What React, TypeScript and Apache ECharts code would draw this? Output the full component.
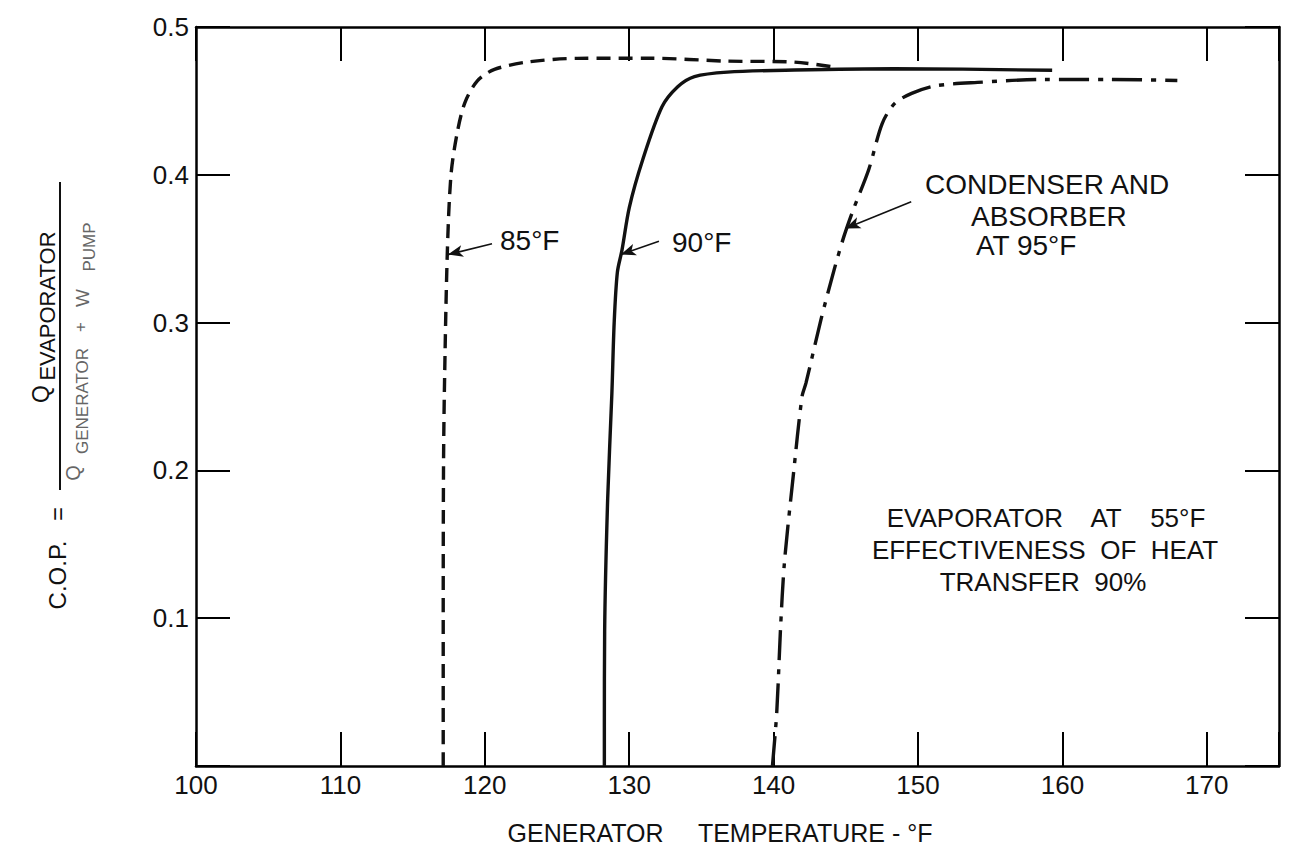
import React, { useEffect, useRef } from "react";
import * as echarts from "echarts";

// Generator temperature (°F) vs C.O.P.
const temp85 = [117.12, 117.12, 117.14, 117.2, 117.4, 117.66, 118.1, 118.63, 119.5, 120.67, 122.95, 126.4, 131.5, 136.79, 141.0, 144.41];
const cop85 = [0.0, 0.1, 0.2, 0.253, 0.346, 0.4, 0.429, 0.449, 0.4637, 0.4713, 0.4763, 0.4788, 0.4789, 0.4769, 0.4765, 0.4726];

const temp90 = [128.28, 128.28, 128.3, 128.51, 128.8, 128.96, 129.18, 129.5, 130.01, 130.93, 132.27, 133.36, 134.52, 136.8, 141.44, 148.36, 159.29];
const cop90 = [0.0, 0.026, 0.091, 0.181, 0.252, 0.3, 0.334, 0.349, 0.378, 0.41, 0.446, 0.4596, 0.4665, 0.4695, 0.4709, 0.4718, 0.4707];

const temp95 = [139.92, 140.22, 140.48, 140.75, 141.36, 141.97, 142.24, 143.28, 144.2, 144.86, 145.52, 146.59, 147.52, 148.39, 149.56, 151.14, 154.12, 158.75, 163.39, 167.96];
const cop95 = [0.0, 0.0366, 0.0931, 0.1376, 0.1962, 0.25, 0.259, 0.302, 0.336, 0.358, 0.3765, 0.4036, 0.4347, 0.4483, 0.4551, 0.4601, 0.4625, 0.4645, 0.4645, 0.4638];

// Arrow annotations: [tailTemp, tailCop, headTemp, headCop]
const arrow85 = [120.5, 0.3534, 117.45, 0.346];
const arrow90 = [132.06, 0.355, 129.42, 0.346];
const arrow95 = [149.53, 0.3818, 144.97, 0.3637];

const xTicks = { min: 100, max: 175, interval: 10 };
const yTicks = { min: 0, max: 0.5, interval: 0.1 };

const FONT = '"Liberation Sans", Arial, sans-serif';
const INK = "#111";

function pairs(xs: number[], ys: number[]) {
  return xs.map((x, i) => [x, ys[i]]);
}

function arrowLine(a: number[]) {
  return {
    silent: true,
    symbol: ["none", "arrow"],
    symbolSize: [9, 15],
    label: { show: false },
    lineStyle: { type: "solid", width: 1.6, color: INK },
    data: [[{ coord: [a[0], a[1]] }, { coord: [a[2], a[3]] }]],
  };
}

function txt(text: string, x: number, y: number, size: number, opts: any = {}) {
  return {
    type: "text",
    x,
    y,
    rotation: opts.rotation || 0,
    silent: true,
    style: {
      text,
      fill: opts.color || INK,
      font: `${size}px ${FONT}`,
      textAlign: opts.align || "center",
      textVerticalAlign: "middle",
    },
  };
}

export default function App() {
  const ref = useRef<HTMLDivElement>(null);
  useEffect(() => {
    if (!ref.current) return;
    const chart = echarts.init(ref.current, undefined, { renderer: "svg" });
    const axisLine = { show: true, onZero: false, lineStyle: { color: "#000", width: 2.5 } };
    const axisTick = { show: true, inside: true, length: 34, lineStyle: { color: "#000", width: 2 } };
    const R = Math.PI / 2;
    const option: any = {
      animation: false,
      backgroundColor: "#fff",
      grid: { left: 196, right: 12, top: 27, bottom: 83 },
      xAxis: [
        {
          type: "value",
          position: "bottom",
          ...xTicks,
          axisLine,
          axisTick,
          splitLine: { show: false },
          axisLabel: {
            margin: 6,
            color: INK,
            fontFamily: FONT,
            fontSize: 26,
            formatter: (v: number) => (v === 175 ? "" : String(v)),
          },
        },
        {
          type: "value",
          position: "top",
          ...xTicks,
          axisLine,
          axisTick,
          splitLine: { show: false },
          axisLabel: { show: false },
        },
      ],
      yAxis: [
        {
          type: "value",
          position: "left",
          ...yTicks,
          axisLine,
          axisTick,
          splitLine: { show: false },
          axisLabel: {
            margin: 7,
            color: INK,
            fontFamily: FONT,
            fontSize: 26,
            formatter: (v: number) => (v === 0 ? "" : v.toFixed(1)),
          },
        },
        {
          type: "value",
          position: "right",
          ...yTicks,
          axisLine,
          axisTick,
          splitLine: { show: false },
          axisLabel: { show: false },
        },
      ],
      series: [
        {
          name: "85°F",
          type: "line",
          data: pairs(temp85, cop85),
          showSymbol: false,
          symbol: "none",
          smooth: 0.3,
          lineStyle: { color: INK, width: 3.4, type: [14, 8], cap: "butt" },
          markLine: arrowLine(arrow85),
        },
        {
          name: "90°F",
          type: "line",
          data: pairs(temp90, cop90),
          showSymbol: false,
          symbol: "none",
          smooth: 0.3,
          lineStyle: { color: INK, width: 3.4, type: "solid" },
          markLine: arrowLine(arrow90),
        },
        {
          name: "95°F",
          type: "line",
          data: pairs(temp95, cop95),
          showSymbol: false,
          symbol: "none",
          smooth: 0.3,
          lineStyle: { color: INK, width: 3.4, type: [30, 9, 5, 9], cap: "butt" },
          markLine: arrowLine(arrow95),
        },
      ],
      graphic: [
        // curve labels
        txt("85°F", 500, 240, 28, { align: "left" }),
        txt("90°F", 672, 242, 28, { align: "left" }),
        txt("CONDENSER AND", 925, 184, 28, { align: "left" }),
        txt("ABSORBER", 971, 216, 28, { align: "left" }),
        txt("AT 95°F", 976, 245, 28, { align: "left" }),
        txt("EVAPORATOR    AT    55°F", 1046, 518, 26),
        txt("EFFECTIVENESS  OF  HEAT", 1045, 550, 26),
        txt("TRANSFER  90%", 1043, 582, 26),
        // x axis title
        txt("GENERATOR     TEMPERATURE - °F", 720, 833, 25),
        // y axis title (rotated fraction)
        txt("C.O.P.", 57, 575, 24, { rotation: R }),
        txt("=", 57, 514, 24, { rotation: R }),
        txt("Q", 41, 394, 23, { rotation: R }),
        txt("EVAPORATOR", 47, 306, 22, { rotation: R }),
        {
          type: "line",
          silent: true,
          shape: { x1: 60, y1: 182, x2: 60, y2: 490 },
          style: { stroke: INK, lineWidth: 2 },
        },
        txt("Q", 73, 473, 20, { rotation: R, color: "#666" }),
        txt("GENERATOR", 82, 401, 17, { rotation: R, color: "#666" }),
        txt("+", 80, 327, 17, { rotation: R, color: "#666" }),
        txt("W", 82, 298, 19, { rotation: R, color: "#666" }),
        txt("PUMP", 89, 247, 17, { rotation: R, color: "#666" }),
      ],
    };
    chart.setOption(option);
    return () => chart.dispose();
  }, []);
  return (
    <div
      ref={ref}
      style={{ position: "fixed", left: 0, top: 0, width: 1291, height: 849, background: "#fff" }}
    />
  );
}
